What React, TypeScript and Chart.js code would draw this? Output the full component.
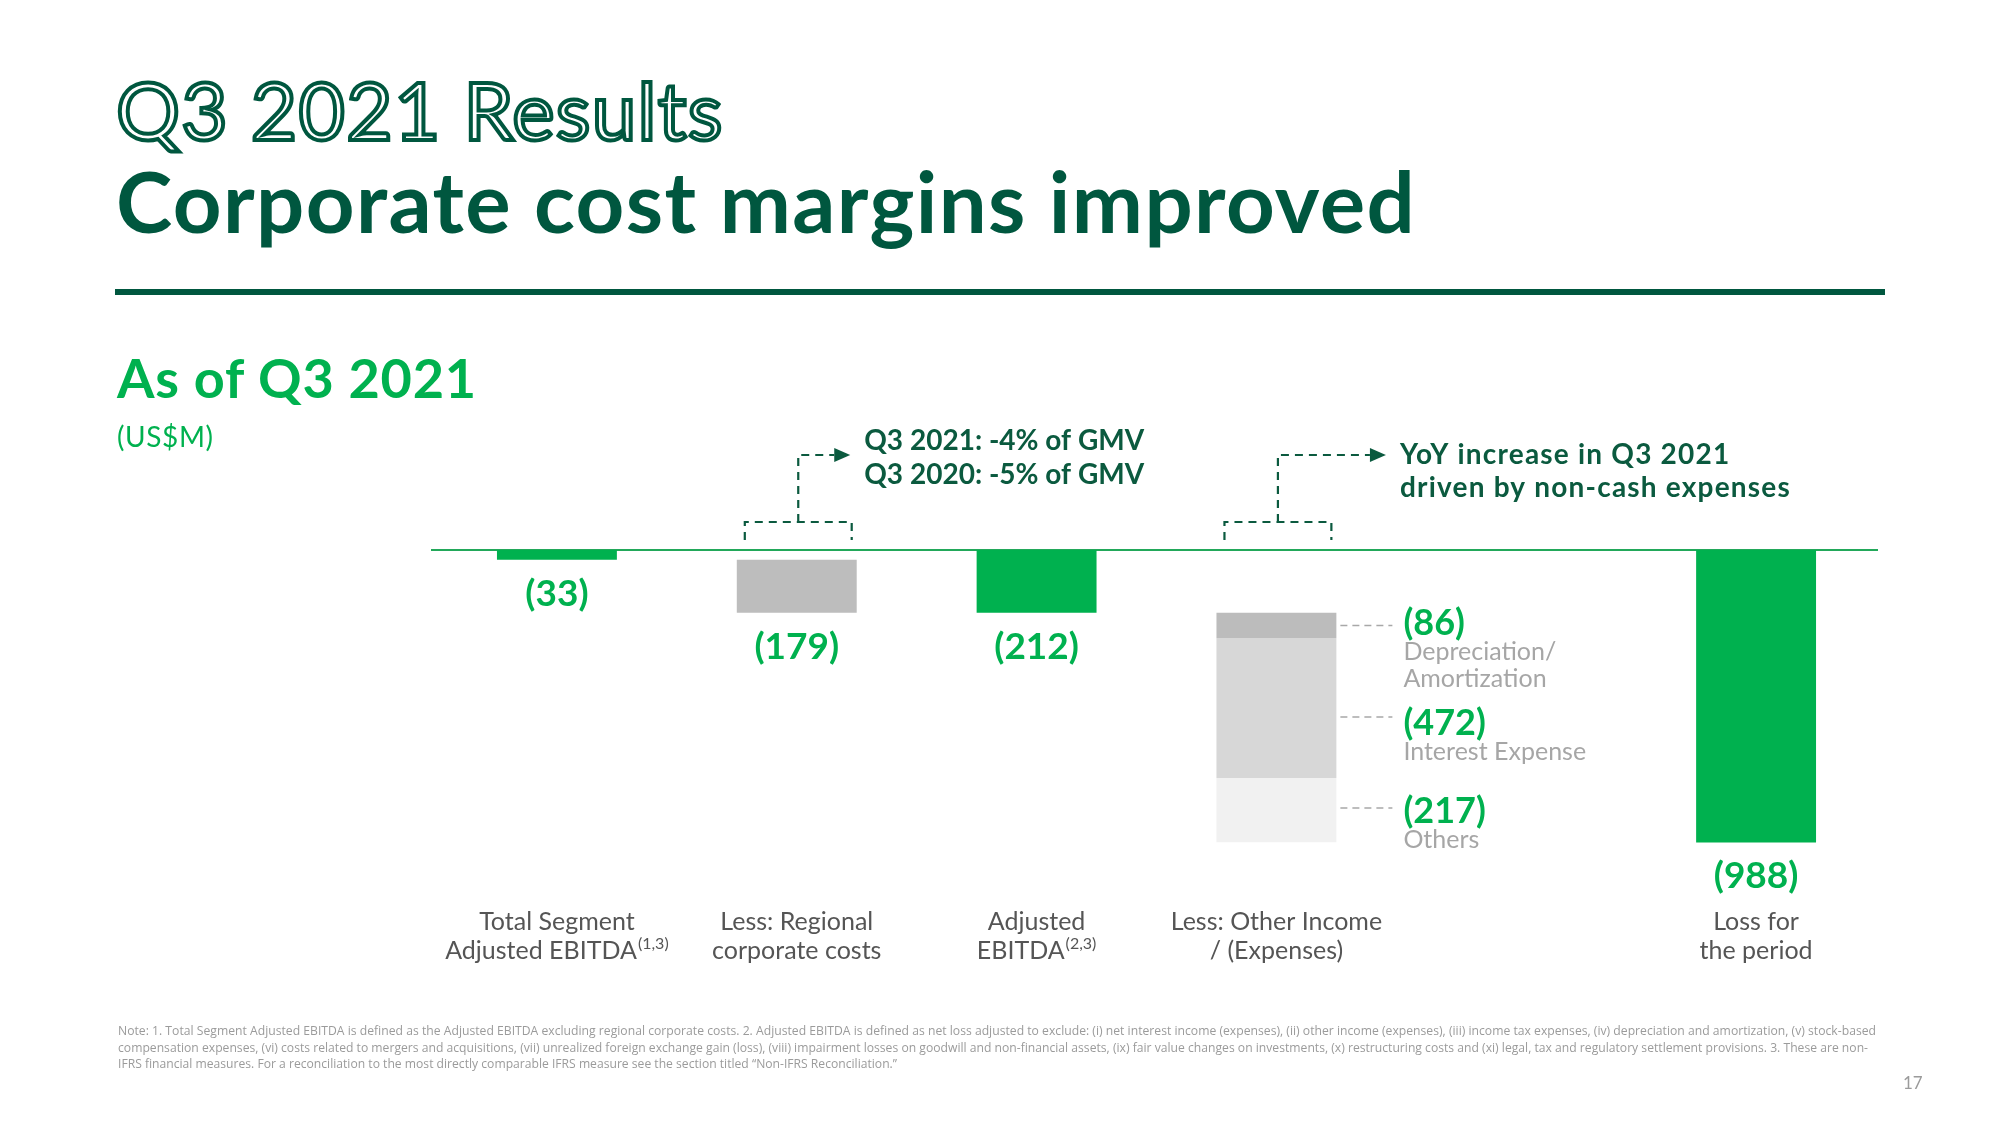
import React, { useEffect, useRef } from 'react';
import { Chart, registerables } from 'chart.js';

Chart.register(...registerables);

// ---------------- data ----------------
const categories = [
  'Total Segment Adjusted EBITDA',
  'Less: Regional corporate costs',
  'Adjusted EBITDA',
  'Less: Other Income / (Expenses)',
  '',
  'Loss for the period',
];
const categoryLines: string[][] = [
  ['Total Segment', 'Adjusted EBITDA^(1,3)'],
  ['Less: Regional', 'corporate costs'],
  ['Adjusted', 'EBITDA^(2,3)'],
  ['Less: Other Income', '/ (Expenses)'],
  [],
  ['Loss for', 'the period'],
];
const mainValues: (number | null)[] = [-33, -179, -212, null, null, -988];
const mainKinds = ['total', 'step', 'total', 'none', 'none', 'total'];
const otherIndex = 3;
const otherValues = [-86, -472, -217];
const otherLabels: string[][] = [['Depreciation/', 'Amortization'], ['Interest Expense'], ['Others']];
const annotationIndex = [1, 3];
const annotationLines: string[][] = [
  ['Q3 2021: -4% of GMV', 'Q3 2020: -5% of GMV'],
  ['YoY increase in Q3 2021', 'driven by non-cash expenses'],
];
const footnoteLines = [
  'Note: 1. Total Segment Adjusted EBITDA is defined as the Adjusted EBITDA excluding regional corporate costs. 2. Adjusted EBITDA is defined as net loss adjusted to exclude: (i) net interest income (expenses), (ii) other income (expenses), (iii) income tax expenses, (iv) depreciation and amortization, (v) stock-based',
  'compensation expenses, (vi) costs related to mergers and acquisitions, (vii) unrealized foreign exchange gain (loss), (viii) impairment losses on goodwill and non-financial assets, (ix) fair value changes on investments, (x) restructuring costs and (xi) legal, tax and regulatory settlement provisions. 3. These are non-',
  'IFRS financial measures. For a reconciliation to the most directly comparable IFRS measure see the section titled \u201cNon-IFRS Reconciliation.\u201d',
];

// ---------------- styles ----------------
const GREEN = '#00b14f';
const DARK = '#00573f';
const LINE_GREEN = '#22a85a';
const mainColors = [GREEN, '#bdbdbd', GREEN, '#ffffff', '#ffffff', GREEN];
const otherColors = ['#bcbcbc', '#d7d7d7', '#f1f1f1'];
const otherTextOffsets = [-2, 15, 1];
const otherDashOffsets = [0, 9, -2];
const annStyle = [
  { tip: 52, text: 66, lineOffsets: [-14, 20], spacing: '0px' },
  { tip: 108, text: 122, lineOffsets: [0, 33], spacing: '1.2px' },
];
const FONT = 'Lato, "Open Sans", sans-serif';

// floating ranges built from values
const mainRanges: ([number, number] | null)[] = (() => {
  let running = 0;
  return mainValues.map((v, i) => {
    if (v == null || mainKinds[i] === 'none') return null;
    if (mainKinds[i] === 'total') {
      running = v;
      return [0, v] as [number, number];
    }
    const r: [number, number] = [running, running + v];
    running = running + v;
    return r;
  });
})();
const otherRanges: [number, number][] = (() => {
  let start = mainValues[2] as number;
  return otherValues.map((v) => {
    const r: [number, number] = [start, start + v];
    start += v;
    return r;
  });
})();

const fmt = (v: number) => `(${Math.abs(v)})`;

function drawRichCentered(ctx: CanvasRenderingContext2D, line: string, cx: number, y: number) {
  const [main, sup] = line.split('^');
  ctx.font = `25px ${FONT}`;
  const w1 = ctx.measureText(main).width;
  let w2 = 0;
  if (sup) {
    ctx.font = `16px ${FONT}`;
    w2 = ctx.measureText(sup).width + 1;
  }
  const start = cx - (w1 + w2) / 2;
  ctx.textAlign = 'left';
  ctx.textBaseline = 'alphabetic';
  ctx.font = `25px ${FONT}`;
  ctx.fillText(main, start, y);
  if (sup) {
    ctx.font = `16px ${FONT}`;
    ctx.fillText(sup, start + w1 + 1, y - 10);
  }
}

const waterfallPlugin = {
  id: 'waterfallDecor',
  beforeDatasetsDraw(chart: any) {
    const ctx = chart.ctx as CanvasRenderingContext2D;
    const y0 = chart.scales.y.getPixelForValue(0);
    const { left, right } = chart.chartArea;
    ctx.save();
    ctx.strokeStyle = LINE_GREEN;
    ctx.lineWidth = 2;
    ctx.beginPath();
    ctx.moveTo(left - 6, y0);
    ctx.lineTo(right + 2, y0);
    ctx.stroke();
    ctx.restore();
  },
  afterDatasetsDraw(chart: any) {
    const ctx = chart.ctx as CanvasRenderingContext2D;
    const yScale = chart.scales.y;
    const xScale = chart.scales.x;
    const y0 = yScale.getPixelForValue(0);
    ctx.save();

    // main value labels
    const mainMeta = chart.getDatasetMeta(0);
    mainValues.forEach((v, i) => {
      if (v == null) return;
      const el = mainMeta.data[i] as any;
      const bottom = Math.max(el.y, el.base);
      ctx.font = `bold 37px ${FONT}`;
      ctx.fillStyle = GREEN;
      ctx.textAlign = 'center';
      ctx.textBaseline = 'middle';
      ctx.fillText(fmt(v), el.x, bottom + 34);
    });

    // stacked component labels
    otherValues.forEach((v, j) => {
      const el = chart.getDatasetMeta(j + 1).data[otherIndex] as any;
      const cy = (el.y + el.base) / 2;
      const ty = cy + otherTextOffsets[j];
      const dy = cy + otherDashOffsets[j];
      const rightEdge = el.x + el.width / 2;
      ctx.strokeStyle = '#a8a8a8';
      ctx.lineWidth = 1.5;
      ctx.setLineDash([7, 5]);
      ctx.beginPath();
      ctx.moveTo(rightEdge + 4, dy);
      ctx.lineTo(rightEdge + 56, dy);
      ctx.stroke();
      ctx.setLineDash([]);
      ctx.font = `bold 36px ${FONT}`;
      ctx.fillStyle = GREEN;
      ctx.textAlign = 'left';
      ctx.textBaseline = 'middle';
      ctx.fillText(fmt(v), rightEdge + 67, ty);
      ctx.font = `25px ${FONT}`;
      ctx.fillStyle = '#a6a6a6';
      ctx.textBaseline = 'alphabetic';
      otherLabels[j].forEach((t, k) => {
        ctx.fillText(t, rightEdge + 67, ty + 37 + k * 27);
      });
    });

    // category labels
    ctx.fillStyle = '#555555';
    categoryLines.forEach((lines, i) => {
      const cx = xScale.getPixelForValue(i);
      lines.forEach((line, k) => {
        drawRichCentered(ctx, line, cx, y0 + 380 + k * 29);
      });
    });

    // annotations
    annotationIndex.forEach((idx, a) => {
      const ds = idx === otherIndex ? 1 : 0;
      const el = chart.getDatasetMeta(ds).data[idx] as any;
      const l = el.x - el.width / 2 + 8;
      const r = el.x + el.width / 2 - 5;
      const cx = (l + r) / 2;
      const by = y0 - 28;
      const ty = y0 - 10;
      const topY = y0 - 95;
      const st = annStyle[a];
      const tipX = cx + st.tip;
      ctx.strokeStyle = '#0b5a3f';
      ctx.fillStyle = '#0b5a3f';
      ctx.lineWidth = 2.2;
      ctx.setLineDash([8, 6]);
      ctx.beginPath();
      ctx.moveTo(l, ty);
      ctx.lineTo(l, by);
      ctx.lineTo(r, by);
      ctx.lineTo(r, ty);
      ctx.moveTo(cx, by);
      ctx.lineTo(cx, topY);
      ctx.lineTo(tipX - 16, topY);
      ctx.stroke();
      ctx.setLineDash([]);
      ctx.beginPath();
      ctx.moveTo(tipX, topY);
      ctx.lineTo(tipX - 16, topY - 7);
      ctx.lineTo(tipX - 16, topY + 7);
      ctx.closePath();
      ctx.fill();
      ctx.font = `bold 28px ${FONT}`;
      (ctx as any).letterSpacing = st.spacing;
      ctx.textAlign = 'left';
      ctx.textBaseline = 'middle';
      annotationLines[a].forEach((t, k) => {
        ctx.fillText(t, cx + st.text, topY + st.lineOffsets[k]);
      });
      (ctx as any).letterSpacing = '0px';
    });

    ctx.restore();
  },
};

export default function App() {
  const canvasRef = useRef<HTMLCanvasElement | null>(null);

  useEffect(() => {
    document.body.style.margin = '0';
    const canvas = canvasRef.current;
    if (!canvas) return;
    const datasets: any[] = [
      {
        label: 'main',
        data: mainRanges,
        backgroundColor: mainColors,
        grouped: false,
        borderWidth: 0,
        barPercentage: 1,
        categoryPercentage: 0.5,
      },
      ...otherValues.map((_, j) => ({
        label: `other${j}`,
        data: categories.map((_, i) => (i === otherIndex ? otherRanges[j] : null)),
        backgroundColor: otherColors[j],
        grouped: false,
        borderWidth: 0,
        barPercentage: 1,
        categoryPercentage: 0.5,
      })),
    ];
    const chart = new Chart(canvas, {
      type: 'bar',
      data: { labels: categories, datasets },
      options: {
        responsive: false,
        animation: false,
        devicePixelRatio: 1,
        layout: { padding: { left: 437, right: 124, top: 550, bottom: 279 } },
        scales: {
          x: { display: false },
          y: { display: false, min: -1000, max: 0 },
        },
        plugins: { legend: { display: false }, tooltip: { enabled: false } },
      },
      plugins: [waterfallPlugin],
    } as any);
    return () => chart.destroy();
  }, []);

  const abs = (extra: React.CSSProperties): React.CSSProperties => ({
    position: 'absolute',
    whiteSpace: 'nowrap',
    lineHeight: 1,
    fontFamily: FONT,
    margin: 0,
    ...extra,
  });

  return (
    <div style={{ position: 'relative', width: 2000, height: 1125, overflow: 'hidden', background: '#ffffff' }}>
      <canvas ref={canvasRef} width={2000} height={1125} style={{ position: 'absolute', left: 0, top: 0 }} />
      <div
        style={abs({
          left: 116,
          top: 69,
          fontSize: 80,
          fontWeight: 400,
          letterSpacing: '1.3px',
          color: '#ffffff',
          WebkitTextStroke: `4px ${DARK}`,
        } as any)}
      >
        Q3 2021 Results
      </div>
      <div style={abs({ left: 116, top: 158, fontSize: 85, fontWeight: 700, letterSpacing: '1.4px', color: DARK })}>
        Corporate cost margins improved
      </div>
      <div style={{ position: 'absolute', left: 115, top: 289, width: 1770, height: 6, background: DARK }} />
      <div style={abs({ left: 117, top: 351, fontSize: 54, fontWeight: 700, letterSpacing: '0.8px', color: GREEN })}>
        As of Q3 2021
      </div>
      <div style={abs({ left: 117, top: 422, fontSize: 28, fontWeight: 400, letterSpacing: '0.6px', color: GREEN })}>
        (US$M)
      </div>
      <svg width={1800} height={60} style={{ position: 'absolute', left: 118, top: 1020 }}>
        {footnoteLines.map((t, i) => (
          <text
            key={i}
            x={0}
            y={15 + i * 16.5}
            fontSize={13}
            fontFamily={'"Open Sans", sans-serif'}
            fill="#9b9b9b"
            textLength={[1758, 1750, 779][i]}
            lengthAdjust="spacingAndGlyphs"
          >
            {t}
          </text>
        ))}
      </svg>
      <div style={abs({ left: 1903, top: 1074, fontSize: 17, color: '#9b9b9b' })}>17</div>
    </div>
  );
}
